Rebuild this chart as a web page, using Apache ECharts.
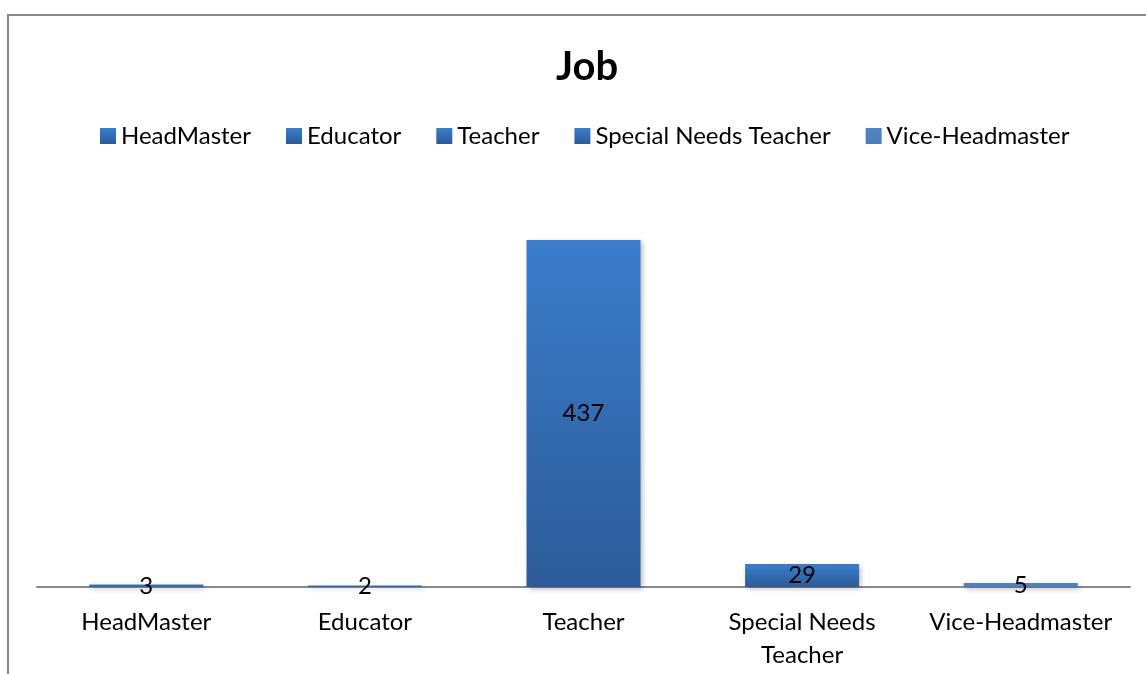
<!DOCTYPE html>
<html>
<head>
<meta charset="utf-8">
<title>Job</title>
<script src="https://cdn.jsdelivr.net/npm/echarts@6/dist/echarts.min.js"></script>
<style>
  html, body { margin: 0; padding: 0; background: #ffffff; }
  #chart { width: 1146px; height: 674px; }
</style>
</head>
<body>
<div id="chart"></div>
<script>
// Job categories and respondent counts
const categories = ['HeadMaster', 'Educator', 'Teacher', 'Special Needs Teacher', 'Vice-Headmaster'];
const tickLabels = ['HeadMaster', 'Educator', 'Teacher', 'Special Needs\nTeacher', 'Vice-Headmaster'];
const counts = [3, 2, 437, 29, 5];

const FONT = 'Lato';

function barFill(top, bottom) {
  return new echarts.graphic.LinearGradient(0, 0, 0, 1, [
    { offset: 0, color: top },
    { offset: 1, color: bottom }
  ]);
}

const fills = [
  barFill('#3b7dcb', '#2c5b98'),
  barFill('#3b7dcb', '#2c5b98'),
  barFill('#3b7dcb', '#2c5b98'),
  barFill('#3b7dcb', '#2c5b98'),
  barFill('#5185c2', '#4a7cb8')
];

// one series per job so each gets its own legend entry; all sit on the same stack
const series = categories.map((name, i) => ({
  name: name,
  type: 'bar',
  stack: 'job',
  barWidth: 114,
  data: categories.map((c, j) => (j === i ? counts[i] : '-')),
  itemStyle: {
    color: fills[i],
    shadowColor: 'rgba(0,0,0,0.28)',
    shadowBlur: 5,
    shadowOffsetX: 2,
    shadowOffsetY: 2
  },
  label: {
    show: true,
    position: 'inside',
    color: '#000000',
    fontFamily: FONT,
    fontSize: 24
  }
}));

const chart = echarts.init(document.getElementById('chart'), null, { renderer: 'canvas' });
chart.setOption({
  animation: false,
  backgroundColor: '#ffffff',
  graphic: [{
    type: 'rect',
    shape: { x: 8, y: 15, width: 1200, height: 720 },
    style: { fill: 'none', stroke: '#888888', lineWidth: 2 },
    z: 0
  }],
  title: {
    text: 'Job',
    left: 551,
    top: 42,
    textStyle: { fontFamily: FONT, fontWeight: 'bold', fontSize: 40, color: '#000000' }
  },
  legend: {
    top: 118,
    left: 95,
    itemWidth: 16,
    itemHeight: 16,
    itemGap: 35,
    icon: 'rect',
    textStyle: { fontFamily: FONT, fontSize: 24, color: '#000000', lineHeight: 26 },
    data: categories
  },
  grid: { left: 37, right: 16, top: 190, bottom: 87, containLabel: false },
  xAxis: {
    type: 'category',
    data: tickLabels,
    axisLine: { lineStyle: { color: '#8a8a8a', width: 2 } },
    axisTick: { show: false },
    axisLabel: { fontFamily: FONT, fontSize: 24, color: '#000000', lineHeight: 33, margin: 19, interval: 0 }
  },
  yAxis: {
    type: 'value',
    min: 0,
    max: 500,
    show: false,
    splitLine: { show: false }
  },
  series: series
});
</script>
</body>
</html>
